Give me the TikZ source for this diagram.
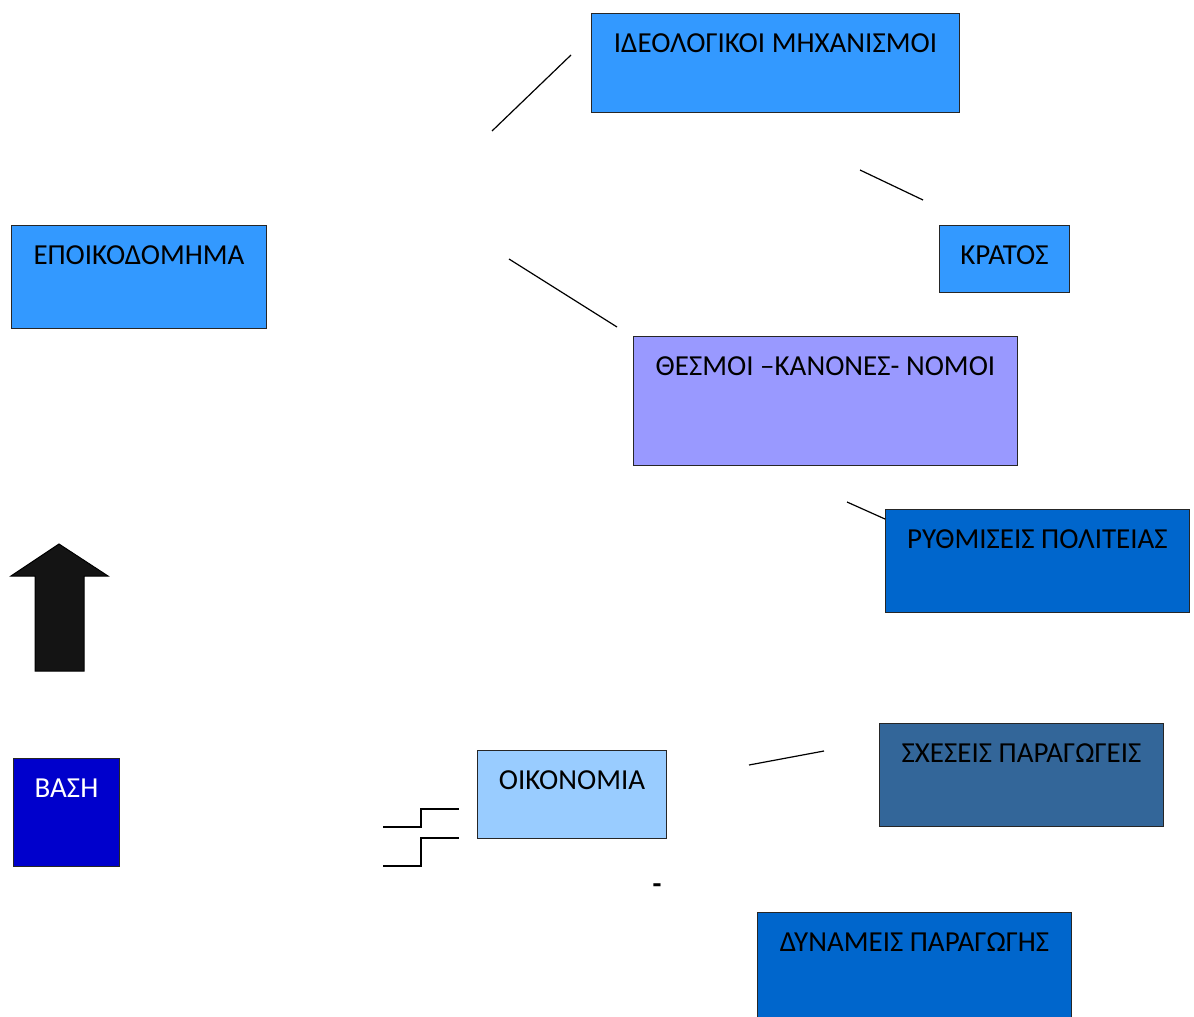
\documentclass[tikz,border=0pt]{standalone}
\usepackage{fontspec}
\setmainfont{Carlito}
\definecolor{cA}{HTML}{3399FF}
\definecolor{cB}{HTML}{9999FF}
\definecolor{cC}{HTML}{0066CC}
\definecolor{cD}{HTML}{0000CC}
\definecolor{cE}{HTML}{99CCFF}
\definecolor{cF}{HTML}{336699}
\tikzset{
  box/.style={draw=black!85, line width=1pt, inner sep=0pt, anchor=north west},
  lbl/.style={inner sep=0pt, anchor=base, yshift=-39pt, font=\fontsize{29}{34}\selectfont},
  conn/.style={line width=1.2pt, black},
}
\begin{document}
\begin{tikzpicture}[x=1pt,y=-1pt]
\useasboundingbox (0,0) rectangle (1194,1017);
% boxes
\node[box, fill=cA, minimum width=368pt, minimum height=99pt,
  label={[lbl]north:ΙΔΕΟΛΟΓΙΚΟΙ ΜΗΧΑΝΙΣΜΟΙ}] (ideo) at (591,13) {};
\node[box, fill=cA, minimum width=130pt, minimum height=67pt,
  label={[lbl]north:ΚΡΑΤΟΣ}] (kratos) at (939,225) {};
\node[box, fill=cA, minimum width=255pt, minimum height=103pt,
  label={[lbl]north:ΕΠΟΙΚΟΔΟΜΗΜΑ}] (epoik) at (11,225) {};
\node[box, fill=cB, minimum width=384pt, minimum height=129pt,
  label={[lbl]north:ΘΕΣΜΟΙ –ΚΑΝΟΝΕΣ- ΝΟΜΟΙ}] (thesmoi) at (633,336) {};
\node[box, fill=cC, minimum width=304pt, minimum height=103pt,
  label={[lbl]north:ΡΥΘΜΙΣΕΙΣ ΠΟΛΙΤΕΙΑΣ}] (ruthm) at (885,509) {};
\node[box, fill=cD, minimum width=106pt, minimum height=108pt,
  label={[lbl, text=white]north:ΒΑΣΗ}] (vasi) at (13,758) {};
\node[box, fill=cE, minimum width=189pt, minimum height=88pt,
  label={[lbl]north:ΟΙΚΟΝΟΜΙΑ}] (oikon) at (477,750) {};
\node[box, fill=cF, minimum width=284pt, minimum height=103pt,
  label={[lbl]north:ΣΧΕΣΕΙΣ ΠΑΡΑΓΩΓΕΙΣ}] (scheseis) at (879,723) {};
\node[box, fill=cC, minimum width=314pt, minimum height=110pt,
  label={[lbl]north:ΔΥΝΑΜΕΙΣ ΠΑΡΑΓΩΓΗΣ}] (dynameis) at (757,912) {};
% dash text
\node[inner sep=0pt, font=\fontsize{29}{34}\selectfont\bfseries] (dash) at (657,889) {-};
% arrow
\draw[fill=black!92, draw=black, line width=1pt]
  (11,576) -- (59,544) -- (108,576) -- (84,576) -- (84,671) -- (35,671) -- (35,576) -- cycle;
% free-floating connectors
\coordinate (a1) at (492,131); \coordinate (a2) at (571,55);
\coordinate (b1) at (860,170); \coordinate (b2) at (923,200);
\coordinate (c1) at (509,259); \coordinate (c2) at (617,327);
\coordinate (d1) at (847,502); \coordinate (d2) at (ruthm.north west);
\coordinate (e1) at (749,765); \coordinate (e2) at (824,751);
\draw[conn] (a1) -- (a2);
\draw[conn] (b1) -- (b2);
\draw[conn] (c1) -- (c2);
\draw[conn] (d1) -- ([yshift=-10pt]d2);
\draw[conn] (e1) -- (e2);
% step lines
\coordinate (s1) at (383,827); \coordinate (s2) at (459,809);
\coordinate (t1) at (383,866); \coordinate (t2) at (459,838);
\draw[conn] (s1) -- (421,827) -- (421,809) -- (s2);
\draw[conn] (t1) -- (421,866) -- (421,838) -- (t2);
\end{tikzpicture}
\end{document}
